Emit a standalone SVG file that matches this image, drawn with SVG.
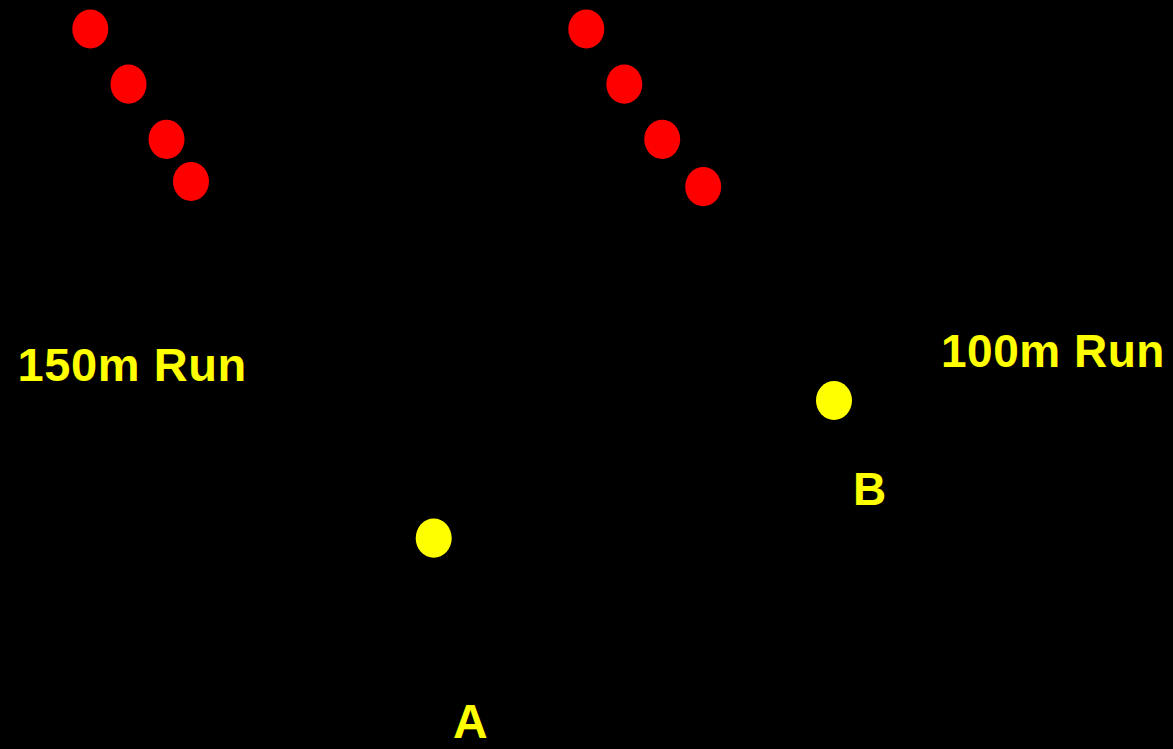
<svg xmlns="http://www.w3.org/2000/svg" width="1173" height="749" viewBox="0 0 1173 749">
<style>
.red{fill:#ff0000}
.yel{fill:#ffff00}
.lbl{fill:#ffff00;font-family:"Liberation Sans",Arial,sans-serif;font-weight:bold}
</style>
<rect x="0" y="0" width="1173" height="749" fill="#000"/>
<g id="left-runners">
<ellipse class="red" cx="90.3" cy="29" rx="18" ry="19.6"/>
<ellipse class="red" cx="128.5" cy="84.2" rx="18" ry="19.6"/>
<ellipse class="red" cx="166.5" cy="139.3" rx="18" ry="19.6"/>
<ellipse class="red" cx="191" cy="181.5" rx="18" ry="19.6"/>
</g>
<g id="right-runners">
<ellipse class="red" cx="586.3" cy="29" rx="18" ry="19.6"/>
<ellipse class="red" cx="624.3" cy="84.2" rx="18" ry="19.6"/>
<ellipse class="red" cx="662.2" cy="139.3" rx="18" ry="19.6"/>
<ellipse class="red" cx="703.2" cy="186.7" rx="18" ry="19.6"/>
</g>
<g id="point-A">
<ellipse class="yel" cx="433.7" cy="538.2" rx="18" ry="19.6"/>
<text class="lbl" x="453" y="738.3" font-size="48">A</text>
</g>
<g id="point-B">
<ellipse class="yel" cx="834" cy="400.5" rx="18" ry="19.6"/>
<text class="lbl" x="853" y="505" font-size="46">B</text>
</g>
<g id="label-150">
<text class="lbl" x="17.5" y="381" font-size="47" letter-spacing="0.6">150m Run</text>
</g>
<g id="label-100">
<text class="lbl" x="941" y="367.3" font-size="46" letter-spacing="0.5">100m Run</text>
</g>
</svg>
